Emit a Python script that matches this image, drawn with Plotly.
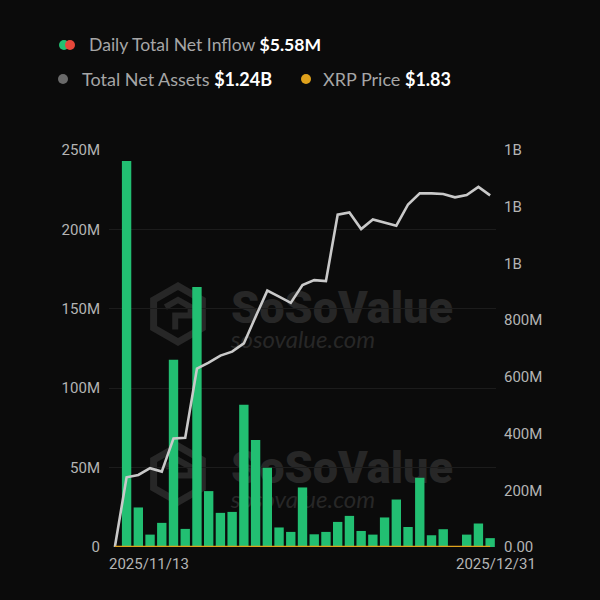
import plotly.graph_objects as go

# trading days shown on the chart (first and last are labelled)
dates = ["2025-11-13", "2025-11-14", "2025-11-17", "2025-11-18", "2025-11-19", "2025-11-20",
         "2025-11-21", "2025-11-24", "2025-11-25", "2025-11-26", "2025-11-28", "2025-12-01",
         "2025-12-02", "2025-12-03", "2025-12-04", "2025-12-05", "2025-12-08", "2025-12-09",
         "2025-12-10", "2025-12-11", "2025-12-12", "2025-12-15", "2025-12-16", "2025-12-17",
         "2025-12-18", "2025-12-19", "2025-12-22", "2025-12-23", "2025-12-24", "2025-12-26",
         "2025-12-29", "2025-12-30", "2025-12-31"]
x_labels = ["2025/11/13", "2025/12/31"]

# daily total net inflow, USD millions
net_inflow = [0, 243.1, 24.9, 7.8, 15.2, 117.9, 11.4, 163.8, 35.2, 21.5, 22.1, 89.5,
              67.4, 49.9, 12.3, 9.5, 37.5, 8.0, 9.5, 15.8, 19.6, 10.1, 7.8, 18.6,
              29.9, 12.6, 43.6, 7.4, 11.2, 0, 7.8, 14.8, 5.58]

# total net assets, USD billions
net_assets = [0.0, 0.246, 0.254, 0.278, 0.266, 0.383, 0.385, 0.629, 0.650, 0.675, 0.689,
              0.718, 0.812, 0.904, 0.883, 0.861, 0.924, 0.941, 0.938, 1.172, 1.180, 1.121,
              1.155, 1.144, 1.133, 1.208, 1.247, 1.247, 1.245, 1.233, 1.241, 1.270, 1.24]

# XRP price, USD (flat on the asset axis)
xrp_price = [2.30, 2.27, 2.20, 2.20, 2.12, 1.98, 1.95, 2.24, 2.20, 2.20, 2.18, 2.02,
             2.15, 2.20, 2.08, 2.03, 2.07, 2.08, 2.04, 2.01, 1.98, 1.92, 1.90, 1.87,
             1.85, 1.92, 1.90, 1.88, 1.87, 1.85, 1.87, 1.86, 1.83]

left_ticks = [0, 50e6, 100e6, 150e6, 200e6, 250e6]
left_text = ["0", "50M", "100M", "150M", "200M", "250M"]
right_ticks = [0, 200e6, 400e6, 600e6, 800e6, 1.0e9, 1.2e9, 1.4e9]
right_text = ["0.00", "200M", "400M", "600M", "800M", "1B", "1B", "1B"]

BG = "#0b0b0b"
GREEN = "#22bf72"
LABEL = "#b4b4b4"
WM = "#272727"

# plot box in pixels, used to place the header/watermark
L, R, T, B = 109, 496, 150, 547


def px(x):
    return (x - L) / (R - L)


def py(y):
    return (B - y) / (B - T)


fig = go.Figure()

fig.add_trace(go.Bar(
    x=dates, y=[v * 1e6 for v in net_inflow],
    marker=dict(color=GREEN, line=dict(width=0)),
    width=0.8, yaxis="y", hoverinfo="skip"
))
fig.add_trace(go.Scatter(
    x=dates, y=[v * 1e9 for v in net_assets],
    mode="lines", line=dict(color="#c9c9c9", width=2.6),
    yaxis="y2", hoverinfo="skip"
))
fig.add_trace(go.Scatter(
    x=dates, y=xrp_price,
    mode="lines", line=dict(color="#e0a21c", width=2.5),
    yaxis="y2", hoverinfo="skip"
))

fig.update_layout(
    width=600, height=600,
    paper_bgcolor=BG, plot_bgcolor=BG,
    margin=dict(l=L, r=600 - R, t=T, b=600 - B),
    showlegend=False,
    font=dict(family="Roboto", size=15, color=LABEL),
    xaxis=dict(type="category", range=[-0.5, len(dates) - 0.5], showticklabels=False,
               showgrid=False, zeroline=False, showline=False, ticks=""),
    yaxis=dict(range=[0, 250e6], tickvals=left_ticks, ticktext=left_text,
               showgrid=True, gridcolor="#1c1c1c", gridwidth=1, zeroline=False,
               ticklabelstandoff=8),
    yaxis2=dict(range=[0, 1.4e9], tickvals=right_ticks, ticktext=right_text,
                overlaying="y", side="right", showgrid=False, zeroline=False,
                ticklabelstandoff=7),
)

# x-axis end labels
fig.add_annotation(x=-0.5, y=py(564), xref="x", yref="paper", text=x_labels[0],
                   xanchor="left", yanchor="middle", xshift=-2, showarrow=False,
                   font=dict(family="Roboto", size=15, color=LABEL))
fig.add_annotation(x=len(dates) - 0.5, y=py(564), xref="x", yref="paper", text=x_labels[1],
                   xanchor="center", yanchor="middle", showarrow=False,
                   font=dict(family="Roboto", size=15, color=LABEL))


# watermarks, drawn as shape labels so they sit under the bars
def wm_text(cx, cy, text, font):
    fig.add_shape(type="rect", xref="paper", yref="paper",
                  x0=px(cx - 140), x1=px(cx + 140), y0=py(cy + 22), y1=py(cy - 22),
                  line=dict(width=0), fillcolor="rgba(0,0,0,0)", layer="below",
                  label=dict(text=text, font=font, textposition="middle center"))


for wy in (304, 464):
    wm_text(342, wy, "SoSoValue", dict(family="Roboto", size=45, color=WM, weight=900))
    wm_text(303, wy + 34, "sosovalue.com", dict(family="Lato", size=24, color=WM, style="italic"))
    cx, cy, r = 178, wy + 10, 28
    pts = [(cx, cy - r), (cx + 0.87 * r, cy - r / 2), (cx + 0.87 * r, cy + r / 2),
           (cx, cy + r), (cx - 0.87 * r, cy + r / 2), (cx - 0.87 * r, cy - r / 2)]
    path = "M " + " L ".join(f"{px(a):.4f},{py(b):.4f}" for a, b in pts) + " Z"
    fig.add_shape(type="path", path=path, xref="paper", yref="paper",
                  line=dict(color=WM, width=7), layer="below")
    inner = [(cx - 0.45 * r, cy - 0.25 * r), (cx, cy - 0.5 * r), (cx + 0.45 * r, cy - 0.25 * r),
             (cx + 0.45 * r, cy + 0.05 * r), (cx - 0.1 * r, cy + 0.05 * r),
             (cx - 0.1 * r, cy + 0.55 * r)]
    path = "M " + " L ".join(f"{px(a):.4f},{py(b):.4f}" for a, b in inner)
    fig.add_shape(type="path", path=path, xref="paper", yref="paper",
                  line=dict(color=WM, width=6), layer="below")


# header legend
def dot(x, y, color):
    fig.add_shape(type="circle", xref="paper", yref="paper", xsizemode="pixel",
                  ysizemode="pixel", xanchor=px(x), yanchor=py(y),
                  x0=-5, x1=5, y0=-5, y1=5, fillcolor=color, line=dict(width=0))


dot(64, 45, "#22bf72")
dot(70, 45, "#e8473a")
dot(63, 79, "#6a6a6a")
dot(306, 79, "#e0a21c")

head_font = dict(family="Lato", size=18, color="#a6a6a6")
fig.add_annotation(x=px(87), y=py(45), xref="paper", yref="paper", xanchor="left",
                   yanchor="middle", showarrow=False, font=dict(head_font, size=17.6),
                   text="Daily Total Net Inflow <b><span style='color:#ffffff'>$5.58M</span></b>")
fig.add_annotation(x=px(80), y=py(79), xref="paper", yref="paper", xanchor="left",
                   yanchor="middle", showarrow=False, font=head_font,
                   text="Total Net Assets <b><span style='color:#ffffff'>$1.24B</span></b>")
fig.add_annotation(x=px(321), y=py(79), xref="paper", yref="paper", xanchor="left",
                   yanchor="middle", showarrow=False, font=head_font,
                   text="XRP Price <b><span style='color:#ffffff'>$1.83</span></b>")

fig.write_html("out.html", config={"displayModeBar": False},
               post_script="document.body.style.margin='0';")
